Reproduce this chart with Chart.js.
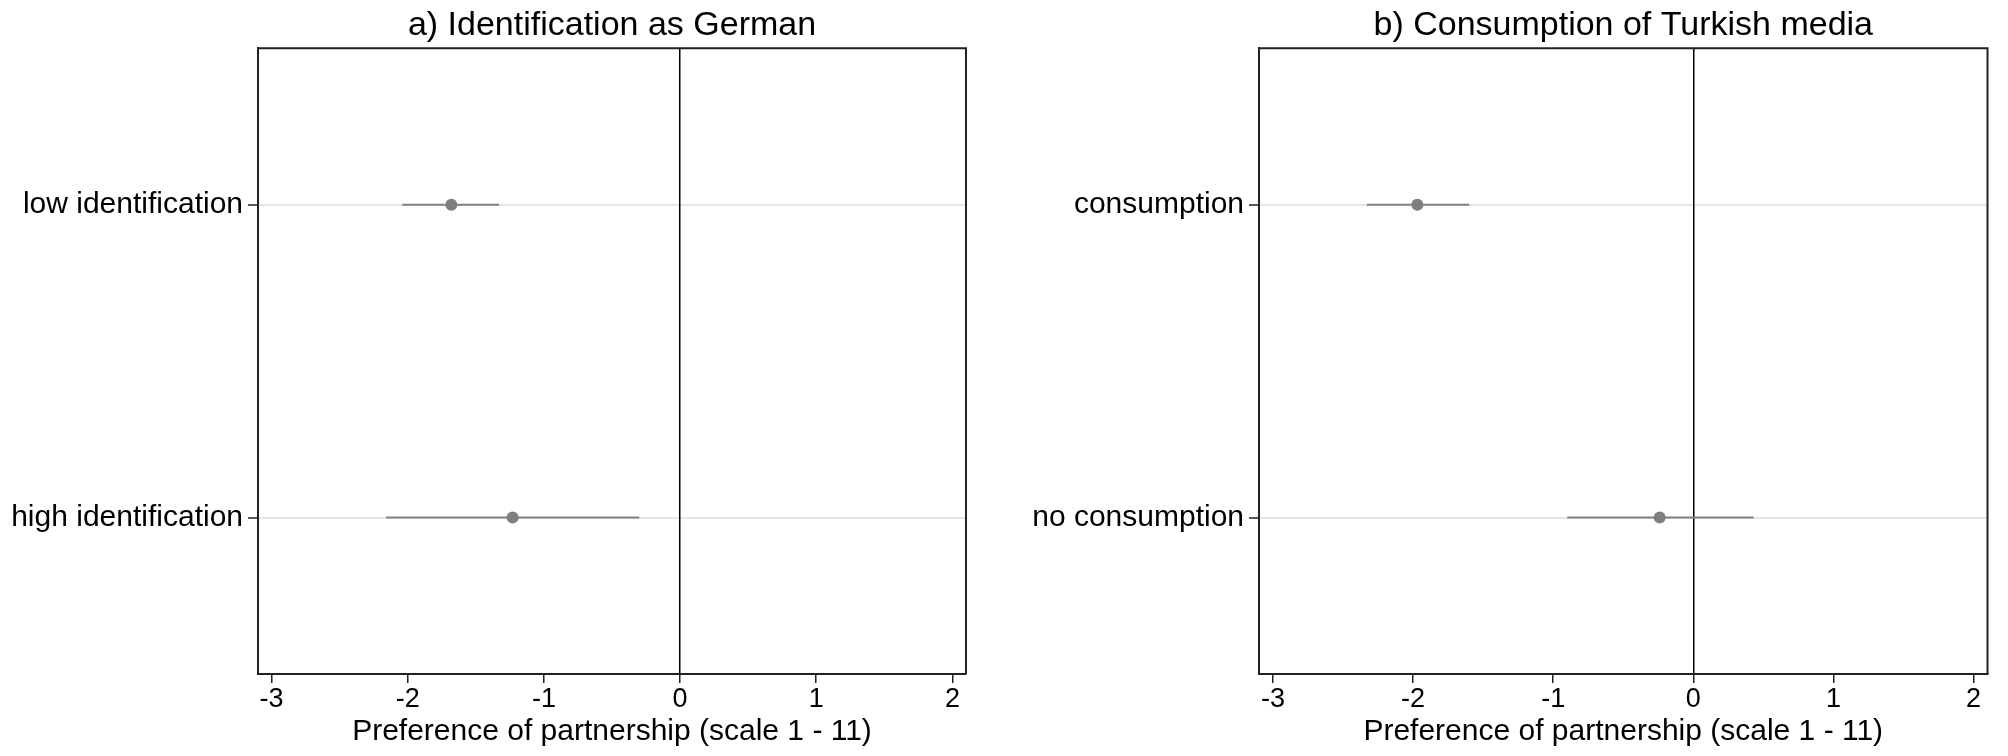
<!DOCTYPE html>
<html>
<head>
<meta charset="utf-8">
<script src="https://cdn.jsdelivr.net/npm/chart.js@4"></script>
<style>
  html, body { margin: 0; padding: 0; background: #fff; }
  .panel { position: absolute; top: 0; width: 1004px; height: 756px; }
  #pa { left: 0; }
  #pb { left: 1004px; }
</style>
</head>
<body>
<div class="panel" id="pa"><canvas id="ca"></canvas></div>
<div class="panel" id="pb"><canvas id="cb"></canvas></div>
<script>
// ---- data ----
const titleA = 'a) Identification as German';
const catsA = ['low identification', 'high identification'];
const estA = [-1.68, -1.23];
const loA = [-2.04, -2.16];
const hiA = [-1.33, -0.30];

const titleB = 'b) Consumption of Turkish media';
const catsB = ['consumption', 'no consumption'];
const estB = [-1.97, -0.24];
const loB = [-2.33, -0.90];
const hiB = [-1.60, 0.43];

const xTicks = [-3, -2, -1, 0, 1, 2];
const xTitle = 'Preference of partnership (scale 1 - 11)';

// ---- chart ----
const FONT = "'Liberation Sans', Arial, Helvetica, sans-serif";
const GRAY = '#808080';
const DARK = '#222222';

const framePlugin = {
  id: 'frame',
  afterDraw(chart) {
    const a = chart.chartArea, c = chart.ctx;
    c.save();
    c.strokeStyle = DARK;
    c.lineWidth = 2;
    c.beginPath();
    c.moveTo(a.left, a.top);
    c.lineTo(a.right, a.top);
    c.lineTo(a.right, a.bottom);
    c.stroke();
    c.restore();
  }
};

function makeChart(id, title, cats, est, lo, hi, yWidth, padRight) {
  const datasets = [];
  cats.forEach((c, i) => {
    datasets.push({
      type: 'line',
      data: [{ x: lo[i], y: i + 1 }, { x: hi[i], y: i + 1 }],
      borderColor: GRAY,
      borderWidth: 2,
      pointRadius: 0,
      fill: false,
      order: 2
    });
  });
  datasets.push({
    type: 'scatter',
    data: est.map((v, i) => ({ x: v, y: i + 1 })),
    backgroundColor: '#7f7f7f',
    borderWidth: 0,
    pointRadius: 6,
    order: 1
  });

  return new Chart(document.getElementById(id), {
    type: 'scatter',
    data: { datasets },
    plugins: [framePlugin],
    options: {
      responsive: true,
      maintainAspectRatio: false,
      animation: false,
      devicePixelRatio: 1,
      layout: { padding: { left: 0, right: padRight, top: 0, bottom: 0 } },
      plugins: {
        legend: { display: false },
        tooltip: { enabled: false },
        title: {
          display: true,
          text: title,
          fullSize: false,
          color: '#000',
          font: { family: FONT, size: 34, weight: 'normal' },
          padding: { top: 5, bottom: 2.5 }
        }
      },
      scales: {
        x: {
          type: 'linear',
          min: -3.1,
          max: 2.1,
          afterBuildTicks: (s) => { s.ticks = xTicks.map(v => ({ value: v })); },
          afterFit: (s) => { s.height = 82; },
          ticks: {
            color: '#000',
            font: { family: FONT, size: 27 },
            padding: 0,
            maxRotation: 0,
            callback: (v) => String(v)
          },
          grid: {
            drawOnChartArea: true,
            color: (ctx) => (ctx.tick && ctx.tick.value === 0) ? '#000' : 'rgba(0,0,0,0)',
            lineWidth: 1.5,
            tickColor: DARK,
            tickLength: 9,
            tickWidth: 1.5
          },
          border: { display: true, color: DARK, width: 2 },
          title: {
            display: true,
            text: xTitle,
            color: '#000',
            font: { family: FONT, size: 30 },
            padding: { top: 0, bottom: 6 }
          }
        },
        y: {
          type: 'linear',
          min: 0.5,
          max: 2.5,
          reverse: true,
          afterBuildTicks: (s) => { s.ticks = cats.map((c, i) => ({ value: i + 1 })); },
          afterFit: (s) => { s.width = yWidth; },
          ticks: {
            color: '#000',
            font: { family: FONT, size: 30 },
            padding: 5,
            callback: (v) => cats[v - 1]
          },
          grid: {
            z: -2,
            color: '#e6e6e6',
            lineWidth: 2,
            tickColor: DARK,
            tickLength: 10,
            tickWidth: 1.5
          },
          border: { display: true, color: DARK, width: 2 }
        }
      }
    }
  });
}

makeChart('ca', titleA, catsA, estA, loA, hiA, 258, 38);
makeChart('cb', titleB, catsB, estB, loB, hiB, 255, 20.5);
</script>
</body>
</html>
